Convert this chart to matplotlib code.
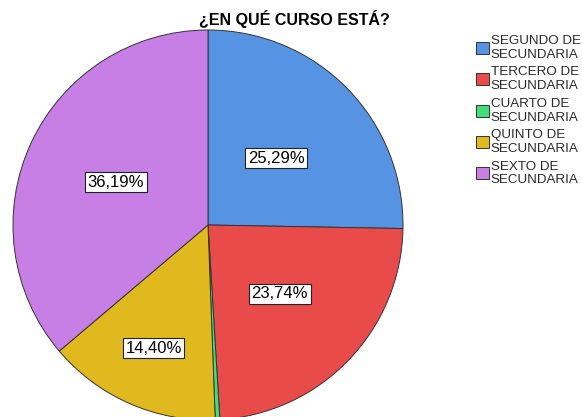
import numpy as np
import matplotlib
matplotlib.use('Agg')
import matplotlib.pyplot as plt

plt.rcParams['font.family'] = ['Liberation Sans', 'DejaVu Sans']

categories = ['SEGUNDO DE\nSECUNDARIA', 'TERCERO DE\nSECUNDARIA', 'CUARTO DE\nSECUNDARIA',
              'QUINTO DE\nSECUNDARIA', 'SEXTO DE\nSECUNDARIA']
percents = [25.29, 23.74, 0.38, 14.40, 36.19]
colors = ['#5793e3', '#e94b4b', '#3ee07a', '#e0b91f', '#c77fe5']
label_dist = [0.49, 0.51, 0.5, 0.69, 0.52]

fig = plt.figure(figsize=(5.82, 4.17), dpi=100)
ax = fig.add_axes([13 / 582, -3 / 417, 390 / 582, 390 / 417])

wedges, _ = ax.pie(percents, colors=colors, startangle=90, counterclock=False,
                   wedgeprops=dict(edgecolor='#333333', linewidth=0.7))
ax.set_xlim(-1, 1)
ax.set_ylim(-1, 1)

for w, p, d in zip(wedges, percents, label_dist):
    if p < 1:
        continue
    ang = np.deg2rad((w.theta1 + w.theta2) / 2)
    ax.text(d * np.cos(ang), d * np.sin(ang), f'{p:.2f}%'.replace('.', ','),
            ha='center', va='center', fontsize=12,
            bbox=dict(boxstyle='square,pad=0.15', fc='white', ec='#222222', lw=0.8))

fig.suptitle('¿EN QUÉ CURSO ESTÁ?', x=0.505, y=0.975, fontsize=11.5, fontweight='bold')

leg = fig.legend(wedges, categories, loc='upper left', bbox_to_anchor=(476 / 582, 1 - 35 / 417),
                 frameon=False, fontsize=9.6, handlelength=1.0, handleheight=1.0,
                 handletextpad=0.1, labelspacing=0.42, borderaxespad=0, borderpad=0)
for t in leg.get_texts():
    t.set_color('#2a2a2a')

fig.savefig('out.png', dpi=100)
